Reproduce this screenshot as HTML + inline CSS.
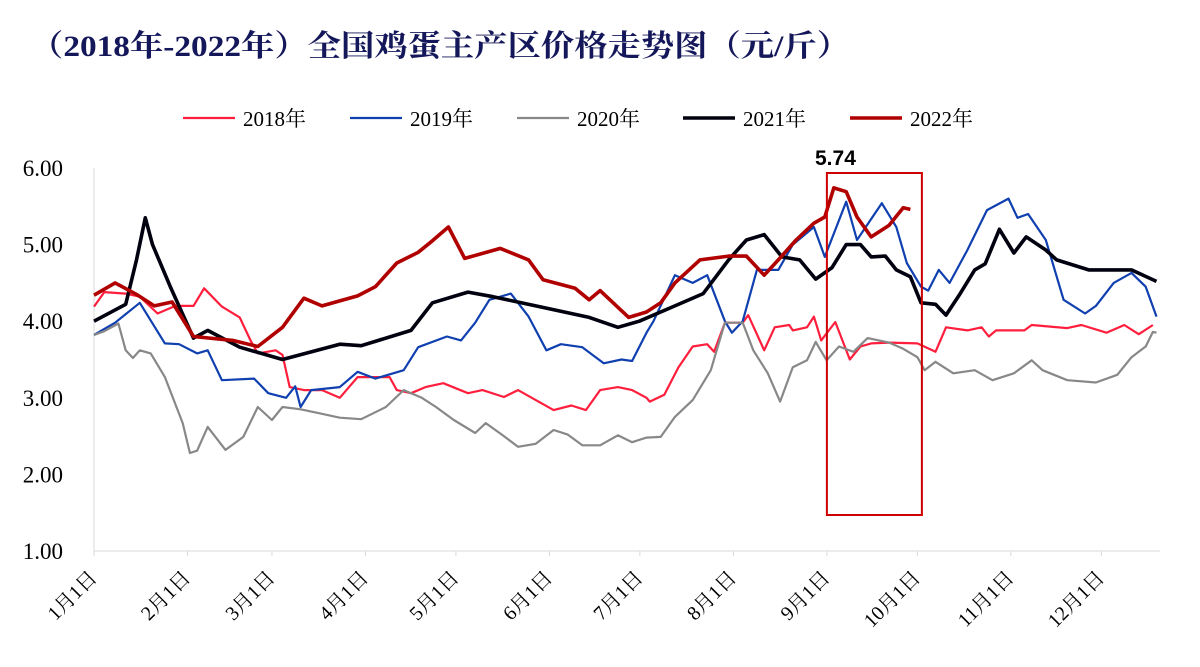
<!DOCTYPE html>
<html><head><meta charset="utf-8">
<style>
html,body{margin:0;padding:0;background:#fff;}
svg{display:block;}
</style></head>
<body>
<svg id="chart" width="1200" height="667" xmlns="http://www.w3.org/2000/svg">
<text x="30" y="56" textLength="820" lengthAdjust="spacingAndGlyphs" font-family="'Liberation Serif','Noto Serif CJK SC',serif" font-weight="bold" font-size="30" fill="#14175a">（2018年-2022年）全国鸡蛋主产区价格走势图（元/斤）</text>
</svg>
<script>
const yTicks=[1,2,3,4,5,6];
const yTickLabels=["1.00","2.00","3.00","4.00","5.00","6.00"];
const monthDays=[0,31,59,90,120,151,181,212,243,273,304,334];
const monthLabels=["1月1日","2月1日","3月1日","4月1日","5月1日","6月1日","7月1日","8月1日","9月1日","10月1日","11月1日","12月1日"];
const seriesNames=["2018年","2019年","2020年","2021年","2022年"];
const days2018=[0,3.4,10.5,15.2,21.1,27,33,36.5,42.4,48.3,51.9,54.3,60.2,62.5,64.9,69.6,75.6,81.5,87.4,93.3,98,100.4,105.1,109.9,115.8,124,128.8,135.9,140.6,146.5,152.4,158.3,163.1,167.8,173.7,178.4,183.2,184.3,189.1,193.8,198.5,203.3,205.6,209.2,215.1,216.9,222.2,225.7,230.5,231.7,236.4,238.7,241.1,245.8,250.6,254.1,257.7,263.6,273,279,282.5,289.6,294.3,296.7,299.1,308.5,310.9,322.7,327.4,335.7,341.6,346.4,351.1];
const vals2018=[4.19,4.38,4.36,4.32,4.1,4.2,4.2,4.43,4.19,4.05,3.75,3.58,3.62,3.56,3.14,3.1,3.1,3.0,3.27,3.27,3.27,3.1,3.06,3.14,3.19,3.06,3.1,3.01,3.1,2.97,2.84,2.9,2.84,3.1,3.14,3.1,3.0,2.95,3.04,3.4,3.67,3.7,3.6,3.98,3.98,4.08,3.62,3.92,3.95,3.88,3.92,4.06,3.75,3.99,3.5,3.67,3.71,3.72,3.71,3.6,3.92,3.88,3.92,3.8,3.88,3.88,3.95,3.91,3.95,3.85,3.95,3.83,3.95];
const days2019=[0,7,15.2,23.5,28.2,34.2,37.7,42.4,53.1,57.8,63.7,66.7,68.5,72,81.5,87.4,93.3,102.7,107.5,117,121.7,126.4,131.1,138.2,144.1,150,154.8,161.9,169,174.9,178.4,183.2,185.5,192.6,198.5,203.3,209.2,211.5,215.1,219.8,226.9,231.7,238.7,242.3,249.4,253,261.2,266,269.5,274.2,276.6,280.1,283.7,289.6,296.1,303.2,306.2,309.7,315.6,321.5,328.6,332.2,338.1,344,348.7,352.3];
const vals2019=[3.82,3.98,4.24,3.71,3.7,3.58,3.62,3.23,3.25,3.06,3.0,3.15,2.88,3.1,3.14,3.34,3.25,3.36,3.66,3.8,3.75,3.98,4.28,4.36,4.06,3.62,3.7,3.66,3.45,3.5,3.48,3.85,4.0,4.6,4.5,4.6,4.0,3.85,4.0,4.67,4.67,5.0,5.23,4.84,5.56,5.06,5.54,5.23,4.76,4.45,4.4,4.67,4.5,4.93,5.45,5.6,5.35,5.4,5.06,4.28,4.1,4.2,4.5,4.63,4.45,4.06];
const days2020=[0,3.4,8.1,10.5,12.9,15.2,18.8,23.5,29.4,31.8,34.2,37.7,43.6,49.5,54.3,59,62.5,68.5,74.4,81.5,88.6,96.8,102.7,108.7,113.4,119.3,126.4,129.9,135.9,140.6,146.5,152.4,157.1,161.9,167.8,173.7,178.4,183.2,187.9,192.6,198.5,204.5,209.2,215.1,218.6,223.4,227.5,231.7,236.4,239.3,242.9,247,251.8,256.5,263.6,268.3,273,275.4,279,284.9,292,297.9,305,310.9,314.5,322.7,332.2,339.3,344,348.7,351.1,352.3];
const vals2020=[3.82,3.87,3.97,3.62,3.52,3.62,3.58,3.27,2.67,2.28,2.31,2.62,2.32,2.49,2.88,2.71,2.88,2.85,2.8,2.74,2.72,2.88,3.1,3.0,2.88,2.71,2.54,2.67,2.5,2.36,2.4,2.58,2.52,2.38,2.38,2.51,2.42,2.48,2.49,2.75,2.97,3.36,3.98,3.98,3.62,3.32,2.95,3.4,3.49,3.73,3.49,3.67,3.6,3.78,3.72,3.64,3.53,3.36,3.47,3.32,3.36,3.23,3.32,3.49,3.36,3.23,3.2,3.3,3.53,3.67,3.86,3.85];
const days2021=[0,10.5,14.1,17,19.4,25.3,33,37.7,48.3,62.5,81.5,88.6,105.1,112.2,124,132.3,146.5,164.2,173.7,180.8,192.6,202,210.4,216.3,222.2,228.1,234,239.3,244.7,249.4,254.1,257.7,262.4,266,270.7,274.2,279,282.5,287.2,292,295.5,300.2,305,309.1,315.6,319.2,329.8,344,352.3];
const vals2021=[4.0,4.22,4.8,5.35,5.0,4.45,3.78,3.88,3.66,3.5,3.7,3.68,3.88,4.24,4.38,4.32,4.2,4.05,3.92,4.0,4.2,4.36,4.8,5.06,5.13,4.84,4.8,4.55,4.7,5.0,5.0,4.84,4.85,4.67,4.58,4.24,4.22,4.08,4.36,4.67,4.75,5.2,4.89,5.1,4.93,4.8,4.67,4.67,4.52];
const days2022=[0,7,14.1,20,25.9,33,46,54.3,62.5,69.6,75.6,87.4,93.3,100.4,107.5,112.2,117.5,122.9,134.7,144.1,148.9,159.5,164.2,167.8,177.3,183.2,187.9,192.6,200.9,210.4,216.3,222.2,226.9,232.8,238.7,242.3,245.3,249.4,253,257.7,263.6,268.3,270.7];
const vals2022=[4.34,4.5,4.35,4.2,4.25,3.8,3.75,3.67,3.92,4.3,4.2,4.33,4.45,4.76,4.9,5.05,5.23,4.82,4.95,4.8,4.54,4.43,4.28,4.4,4.05,4.12,4.24,4.5,4.8,4.85,4.85,4.6,4.8,5.06,5.28,5.36,5.74,5.69,5.36,5.1,5.25,5.48,5.46];
const peakValue=5.74;

const X0=94,XPD=3.016,Y0=168,YPU=76.6,XEND=1160,YBASE=551;
const xS=d=>X0+d*XPD;
const yS=v=>Y0+(6-v)*YPU;
const svg=document.getElementById('chart');
const NS='http://www.w3.org/2000/svg';
const SERIF="'Liberation Serif','Noto Serif CJK SC',serif";
function mk(tag,attrs){const e=document.createElementNS(NS,tag);for(const k in attrs)e.setAttribute(k,attrs[k]);svg.appendChild(e);return e;}

let ya=mk('line',{x1:X0,y1:Y0,x2:X0,y2:YBASE,stroke:'#d9d9d9','stroke-width':1});


let xa=mk('line',{x1:X0,y1:YBASE,x2:XEND,y2:YBASE,stroke:'#d9d9d9','stroke-width':1});


yTicks.forEach((v,i)=>{
  const t=mk('text',{x:63,y:yS(v)+8,'text-anchor':'end','font-family':SERIF,'font-size':23,fill:'#000'});
  t.textContent=yTickLabels[i];
  
  
});
monthDays.forEach((d,i)=>{
  const x=xS(d);
  const tk=mk('line',{x1:x,y1:YBASE,x2:x,y2:YBASE+5,stroke:'#d9d9d9'});
  
  
  const t=mk('text',{x:x+4,y:YBASE+28,'text-anchor':'end','font-family':SERIF,'font-size':20,fill:'#000',transform:`rotate(-45 ${x+4} ${YBASE+28})`});
  t.textContent=monthLabels[i];
  
  
});

const styles=[{c:'#ff1f3d',w:2.2},{c:'#1040b0',w:2.2},{c:'#888888',w:2.2},{c:'#00000f',w:3.6},{c:'#b00000',w:3.6}];
const allDays=[days2018,days2019,days2020,days2021,days2022];
const allVals=[vals2018,vals2019,vals2020,vals2021,vals2022];
allDays.forEach((ds,s)=>{
  const pts=ds.map((d,i)=>xS(d).toFixed(1)+','+yS(allVals[s][i]).toFixed(1)).join(' ');
  const p=mk('polyline',{points:pts,fill:'none',stroke:styles[s].c,'stroke-width':styles[s].w,'stroke-linejoin':'round'});
  
  
});

const legX=[183,350,517,683,850];
seriesNames.forEach((n,i)=>{
  const l=mk('line',{x1:legX[i],y1:118,x2:legX[i]+52,y2:118,stroke:styles[i].c,'stroke-width':styles[i].w});
  
  
  const t=mk('text',{x:legX[i]+60,y:126,'font-family':SERIF,'font-size':21,fill:'#000'});
  t.textContent=n;
  
  
});

const bx=mk('rect',{x:xS(243),y:173,width:95,height:342,fill:'none',stroke:'#cc0000','stroke-width':2});


const pk=mk('text',{x:815,y:165,'font-family':"'Liberation Sans',sans-serif",'font-weight':'bold','font-size':21,fill:'#000'});
pk.textContent=peakValue.toFixed(2);


</script>
</body></html>
